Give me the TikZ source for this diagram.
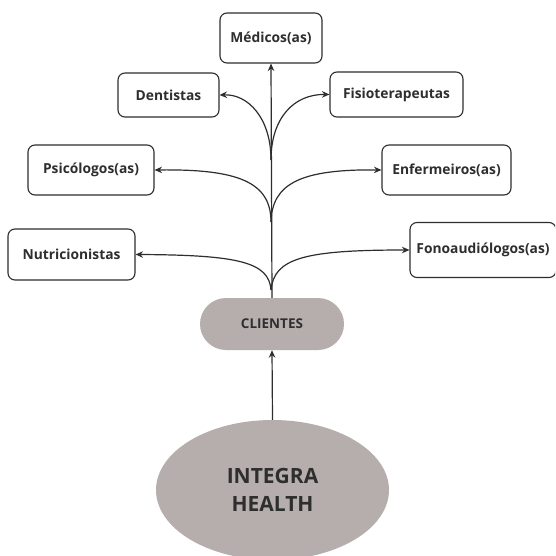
\documentclass[tikz,border=0pt]{standalone}
\usepackage{fontspec}
\setmainfont{Open Sans}
\usetikzlibrary{arrows.meta,shapes.geometric}
\definecolor{fillgrey}{HTML}{B6AEAD}
\definecolor{ink}{HTML}{2E2E2E}
\tikzset{
  box/.style={draw=ink, line width=1.1pt, rounded corners=7pt, fill=white, text=ink,
    font=\fontsize{13.8}{16}\selectfont\bfseries, inner sep=0pt},
  conn/.style={draw=ink, line width=1.2pt, -{Stealth[length=7.5pt,width=6.5pt]}},
}
\begin{document}
\begin{tikzpicture}[x=1pt,y=-1pt]
\clip (0,0) rectangle (555,556);
\fill[white] (0,0) rectangle (555,556);
% nodes
\node[box, minimum width=102pt, minimum height=50pt] (med) at (271,38) {Médicos(as)};
\node[box, minimum width=101pt, minimum height=44pt] (den) at (168.5,95) {Dentistas};
\node[box, minimum width=133pt, minimum height=45pt] (fis) at (396.5,94.5) {Fisioterapeutas};
\node[box, minimum width=126pt, minimum height=50pt] (psi) at (91,170) {Psicólogos(as)};
\node[box, minimum width=129pt, minimum height=50pt] (enf) at (446.5,170) {Enfermeiros(as)};
\node[box, minimum width=127pt, minimum height=51pt] (nut) at (71.5,254.5) {Nutricionistas};
\node[box, minimum width=146pt, minimum height=55pt] (fon) at (483,250) {Fonoaudiólogos(as)};
\node[fill=fillgrey, rounded corners=26pt, minimum width=144pt, minimum height=52pt, inner sep=0pt,
  text=ink, font=\fontsize{13.5}{15}\selectfont\bfseries] (cli) at (272,324) {CLIENTES};
\node[ellipse, fill=fillgrey, minimum width=233pt, minimum height=140pt, inner sep=0pt,
  text=ink, align=center, font=\fontsize{21}{28}\selectfont\bfseries] (ih) at (272.5,490) {INTEGRA\\HEALTH};
% branch points
\coordinate (j1) at (271,160);
\coordinate (j2) at (271,222);
\coordinate (j3) at (271,290);
% connectors
\draw[conn] (ih.north) -- (cli.south);
\draw[conn] (cli.north) -- (med.south);
\draw[conn] (j1) .. controls (271,118) and (248,94) .. (den.east);
\draw[conn] (j1) .. controls (271,118) and (294,94) .. (fis.west);
\draw[conn] (j2) .. controls (271,182) and (238,169) .. (psi.east);
\draw[conn] (j2) .. controls (272,184) and (300,169) .. (enf.west);
\draw[conn] (j3) .. controls (269,262) and (238,255) .. (nut.east);
\draw[conn] (j3) .. controls (274,258) and (305,250) .. (fon.west);
\end{tikzpicture}
\end{document}
